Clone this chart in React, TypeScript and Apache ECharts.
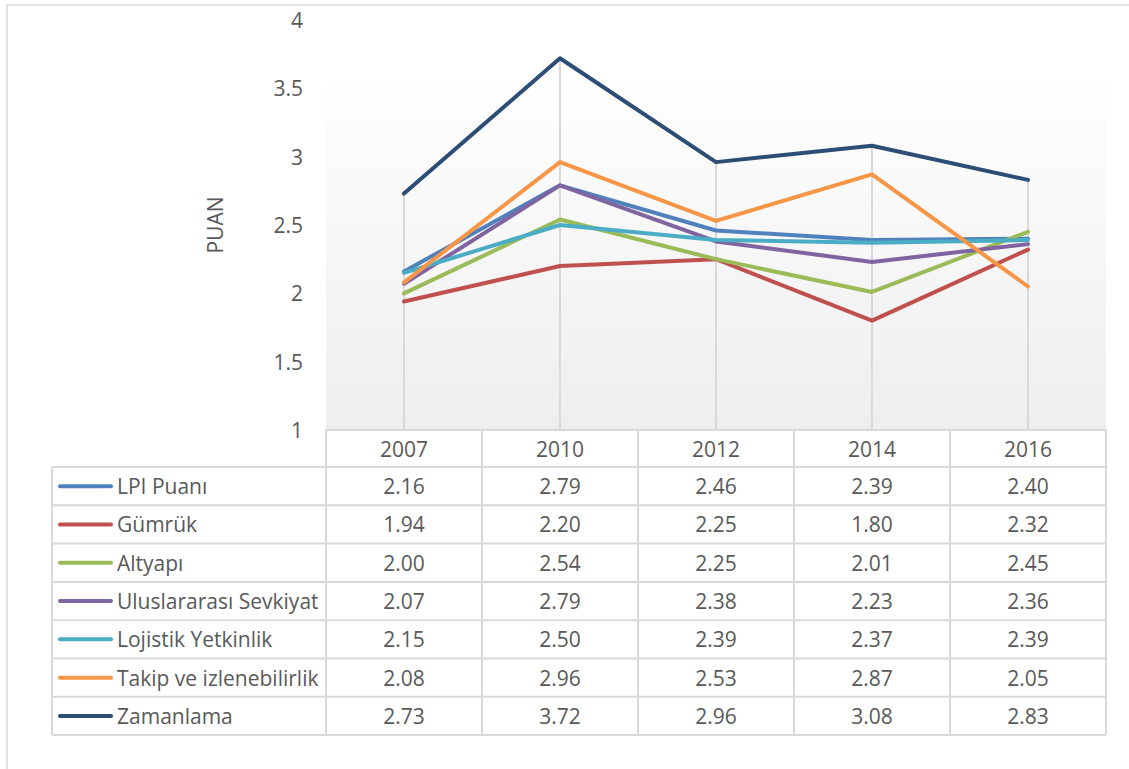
import React, { useEffect, useRef } from "react";
import * as echarts from "echarts";

const years = ["2007", "2010", "2012", "2014", "2016"];
const seriesNames = [
  "LPI Puanı",
  "Gümrük",
  "Altyapı",
  "Uluslararası Sevkiyat",
  "Lojistik Yetkinlik",
  "Takip ve izlenebilirlik",
  "Zamanlama",
];
const lpiPuani = [2.16, 2.79, 2.46, 2.39, 2.4];
const gumruk = [1.94, 2.2, 2.25, 1.8, 2.32];
const altyapi = [2.0, 2.54, 2.25, 2.01, 2.45];
const uluslararasi = [2.07, 2.79, 2.38, 2.23, 2.36];
const lojistik = [2.15, 2.5, 2.39, 2.37, 2.39];
const takip = [2.08, 2.96, 2.53, 2.87, 2.05];
const zamanlama = [2.73, 3.72, 2.96, 3.08, 2.83];
const seriesValues = [lpiPuani, gumruk, altyapi, uluslararasi, lojistik, takip, zamanlama];
const colors = ["#4f81bd", "#c0504d", "#9bbb59", "#8064a2", "#4bacc6", "#f79646", "#2c4d75"];
const yMin = 1;
const yMax = 4;
const yInterval = 0.5;
const axisTitle = "PUAN";

const W = 1129;
const H = 769;
const TEXT = "#595959";
const GRIDC = "#d9d9d9";
const FONT = "'Open Sans', 'Noto Sans', sans-serif";
const FS = 21;

export default function App() {
  const ref = useRef<HTMLDivElement>(null);
  useEffect(() => {
    if (!ref.current) return;
    const chart = echarts.init(ref.current, null, { renderer: "svg", width: W, height: H });
    const maxPerCat = years.map((_, i) => Math.max(...seriesValues.map((s) => s[i])));
    const grid = { left: 326, right: W - 1106, top: 20, bottom: H - 430 };
    const option: any = {
      animation: false,
      backgroundColor: "#ffffff",
      textStyle: { fontFamily: FONT },
      grid: {
        ...grid,
        show: true,
        borderWidth: 0,
        backgroundColor: new echarts.graphic.LinearGradient(0, 0, 0, 1, [
          { offset: 0, color: "#ffffff" },
          { offset: 0.12, color: "#ffffff" },
          { offset: 1, color: "#eeeeee" },
        ]),
      },
      xAxis: {
        type: "category",
        data: years,
        boundaryGap: true,
        axisLine: { show: false },
        axisTick: { show: false },
        splitLine: { show: false },
        axisLabel: {
          color: TEXT,
          fontSize: FS,
          fontFamily: FONT,
          margin: 19,
          verticalAlign: "middle",
        },
      },
      yAxis: {
        type: "value",
        min: yMin,
        max: yMax,
        interval: yInterval,
        axisLine: { show: false },
        axisTick: { show: false },
        splitLine: { show: false },
        axisLabel: { color: TEXT, fontSize: FS, fontFamily: FONT, margin: 23 },
        name: axisTitle,
        nameLocation: "middle",
        nameRotate: 90,
        nameGap: 101,
        nameTextStyle: { color: TEXT, fontSize: FS, fontFamily: FONT },
      },
      series: [
        {
          type: "line",
          name: "drop",
          data: [],
          silent: true,
          markLine: {
            silent: true,
            symbol: ["none", "none"],
            z: 1,
            label: { show: false },
            lineStyle: { color: GRIDC, width: 2, type: "solid" },
            emphasis: { disabled: true },
            data: years.map((y, i) => [
              { coord: [y, maxPerCat[i]] },
              { coord: [y, yMin] },
            ]),
          },
        },
        ...seriesNames.map((n, k) => ({
          type: "line",
          name: n,
          data: seriesValues[k],
          symbol: "none",
          z: 3 + k,
          lineStyle: { color: colors[k], width: 4, cap: "round", join: "round" },
          itemStyle: { color: colors[k] },
        })),
      ],
    };
    chart.setOption(option);

    const cx = years.map((y) => chart.convertToPixel({ xAxisIndex: 0 }, y) as number);
    const cw = cx.length > 1 ? cx[1] - cx[0] : 156;
    const x0 = cx[0] - cw / 2;
    const x1 = cx[cx.length - 1] + cw / 2;
    const yTop = chart.convertToPixel({ yAxisIndex: 0 }, yMin) as number;
    const headerH = 37;
    const rowH = 38.3;
    const tableLeft = 52;
    const rowTop = yTop + headerH;
    const tableBottom = rowTop + rowH * seriesNames.length;
    const els: any[] = [];
    const line = (xa: number, ya: number, xb: number, yb: number) =>
      els.push({
        type: "line",
        silent: true,
        shape: { x1: xa, y1: ya, x2: xb, y2: yb },
        style: { stroke: GRIDC, lineWidth: 2 },
      });
    // outer chart border
    els.push({
      type: "rect",
      silent: true,
      shape: { x: 7, y: 5, width: W + 20, height: H + 20 },
      style: { fill: "none", stroke: GRIDC, lineWidth: 1.5 },
    });
    line(x0, yTop, x1, yTop);
    for (let r = 0; r <= seriesNames.length; r++) {
      const y = rowTop + r * rowH;
      line(tableLeft, y, x1, y);
    }
    line(tableLeft, rowTop, tableLeft, tableBottom);
    for (let c = 0; c <= years.length; c++) {
      const x = x0 + c * cw;
      line(x, yTop, x, tableBottom);
    }
    seriesNames.forEach((n, k) => {
      const yc = rowTop + rowH * (k + 0.5);
      els.push({
        type: "line",
        silent: true,
        shape: { x1: 60, y1: yc, x2: 111, y2: yc },
        style: { stroke: colors[k], lineWidth: 4, lineCap: "round" },
      });
      els.push({
        type: "text",
        silent: true,
        x: 117,
        y: yc,
        style: {
          text: n,
          fill: TEXT,
          font: `${FS}px ${FONT}`,
          textAlign: "left",
          textVerticalAlign: "middle",
        },
      });
      seriesValues[k].forEach((v, i) => {
        els.push({
          type: "text",
          silent: true,
          x: cx[i],
          y: yc,
          style: {
            text: v.toFixed(2),
            fill: TEXT,
            font: `${FS}px ${FONT}`,
            textAlign: "center",
            textVerticalAlign: "middle",
          },
        });
      });
    });
    chart.setOption({ graphic: { elements: els } });
    return () => chart.dispose();
  }, []);
  return (
    <div
      ref={ref}
      style={{ position: "fixed", left: 0, top: 0, width: W, height: H, background: "#fff" }}
    />
  );
}
